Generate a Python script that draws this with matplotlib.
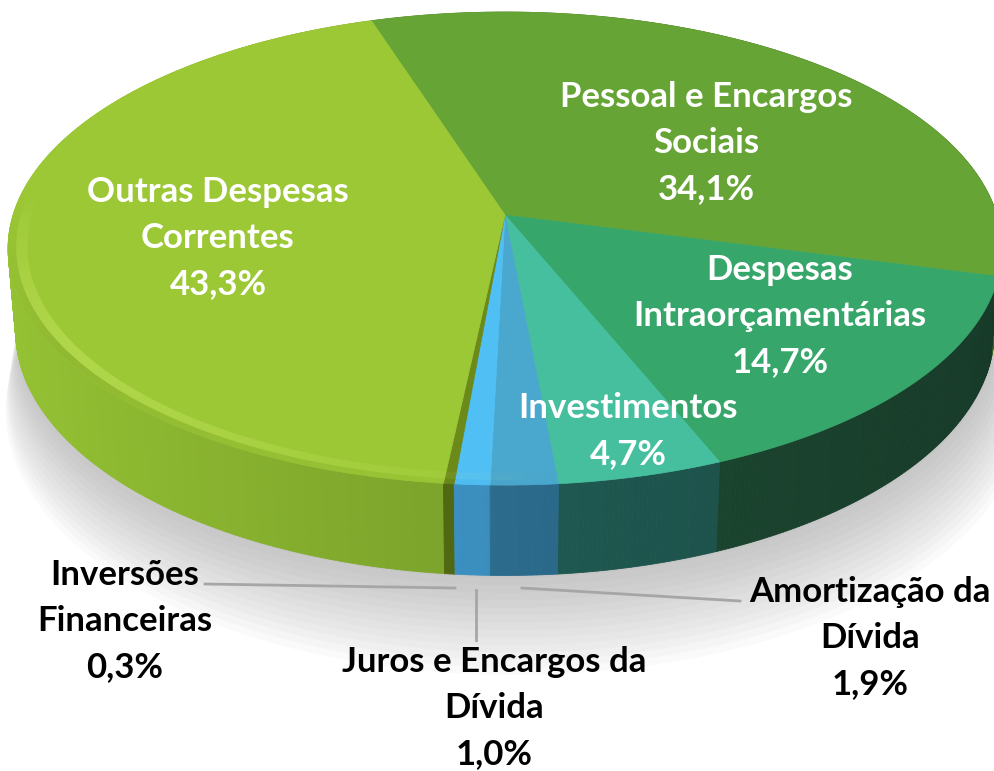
import numpy as np
import matplotlib.pyplot as plt
from matplotlib.patches import Polygon
from matplotlib.colors import to_rgb

# data (clockwise from the top boundary)
labels = ["Pessoal e Encargos\nSociais", "Despesas\nIntraorçamentárias", "Investimentos",
          "Amortização da\nDívida", "Juros e Encargos da\nDívida", "Inversões\nFinanceiras",
          "Outras Despesas\nCorrentes"]
values = [34.1, 14.7, 4.7, 1.9, 1.0, 0.3, 43.3]
pct_text = ["34,1%", "14,7%", "4,7%", "1,9%", "1,0%", "0,3%", "43,3%"]
top_colors = ["#66a535", "#37a66b", "#46bf9f", "#4aa7cd", "#50bff4", "#6b8a1a", "#9cc836"]
side_colors = ["#4f8129", "#1d4a33", "#1f5a52", "#2c6b8c", "#3a8dbd", "#4e6612", "#7aa02a"]

# label placement (center of first line, pixel), colour
lab_pos = [(706, 97), (780, 270), (628, 408), (870, 592), (494, 662), (125, 575), (218, 192)]
lab_col = ["white", "white", "white", "black", "black", "black", "white"]

# camera / projection
CX, CY = 505, 215
FX, FY = 3040, 2984
PHI = np.arcsin(0.48)
D = 6.18
H = 0.196
START = 107.95


def proj(theta, y=0.0, r=1.0):
    t = np.radians(theta)
    X = r * np.cos(t)
    Z = -r * np.sin(t)
    up = y * np.cos(PHI) - Z * np.sin(PHI)
    depth = D - (y * np.sin(PHI) + Z * np.cos(PHI))
    return CX + FX * X / depth, CY - FY * up / depth


def shade(c, k):
    c = np.array(to_rgb(c)) * k
    return np.clip(c, 0, 1)


fig = plt.figure(figsize=(9.95, 7.71), dpi=100)
ax = fig.add_axes([0, 0, 1, 1])
ax.set_xlim(0, 995)
ax.set_ylim(771, 0)
ax.axis("off")

fr = np.array(values) / np.sum(values)
edges = START - 360 * np.concatenate([[0], np.cumsum(fr)])

# soft shadow under the pie
tt = np.linspace(0, 360, 300)
for i in range(14):
    s = 1.0 + 0.004 * i
    bx, by = proj(tt, -H - 0.012 * i, s)
    ax.add_patch(Polygon(np.column_stack([bx + 2 + 0.6 * i, by + 2 + 0.8 * i]), closed=True,
                         fc="#7a7a7a", ec="none", alpha=0.035, zorder=1))

# sides, painter's order back to front
segs = []
for k in range(len(values)):
    a0, a1 = edges[k], edges[k + 1]
    n = max(int(abs(a0 - a1) / 0.5), 2)
    th = np.linspace(a0, a1, n + 1)
    for j in range(n):
        tm = 0.5 * (th[j] + th[j + 1])
        segs.append((np.sin(np.radians(tm)), th[j], th[j + 1], k, tm))
segs.sort(key=lambda s: -s[0])
for _, t0, t1, k, tm in segs:
    x0, y0 = proj(t0)
    x1, y1 = proj(t1)
    x2, y2 = proj(t1, -H)
    x3, y3 = proj(t0, -H)
    kk = 1.0 - 0.22 * np.cos(np.radians(tm))
    col = shade(side_colors[k], kk)
    ax.add_patch(Polygon([(x0, y0), (x1, y1), (x2, y2), (x3, y3)], closed=True,
                         fc=col, ec=col, lw=0.6, zorder=2))

# top face
for k in range(len(values)):
    th = np.linspace(edges[k], edges[k + 1], max(int(abs(edges[k] - edges[k + 1])), 2) + 1)
    px, py = proj(th)
    pts = np.column_stack([np.r_[CX, px], np.r_[CY, py]])
    ax.add_patch(Polygon(pts, closed=True, fc=top_colors[k], ec=top_colors[k], lw=0.5, zorder=3))

    # bevel highlight near the rim, strongest at the left
    for j in range(len(th) - 1):
        tm = 0.5 * (th[j] + th[j + 1])
        sn = np.sin(np.radians(tm))
        cs = np.cos(np.radians(tm))
        if sn > 0.1:
            continue
        a = 0.5 * min(1.0, (0.1 - sn) * 1.5) * max(0.0, -cs + 0.1)
        xa, ya = proj(th[j], 0, 0.962)
        xb, yb = proj(th[j + 1], 0, 0.962)
        xc, yc = proj(th[j + 1], 0, 0.984)
        xd, yd = proj(th[j], 0, 0.984)
        ax.add_patch(Polygon([(xa, ya), (xb, yb), (xc, yc), (xd, yd)], closed=True,
                             fc="#e8ff80", ec="none", alpha=a * 0.6, zorder=4))
        xe, ye = proj(th[j + 1], 0, 1.0)
        xf, yf = proj(th[j], 0, 1.0)
        ax.add_patch(Polygon([(xd, yd), (xc, yc), (xe, ye), (xf, yf)], closed=True,
                             fc="black", ec="none", alpha=a * 0.15, zorder=4))

# leader lines
lc = "#a6a6a6"
ax.plot([205, 455], [584, 588], color=lc, lw=2, zorder=5)
ax.plot([476, 476], [590, 640], color=lc, lw=2, zorder=5)
ax.plot([522, 740], [588, 601], color=lc, lw=2, zorder=5)

# labels
fam = ["Lato", "DejaVu Sans"]
for k in range(len(values)):
    lines = labels[k].split("\n") + [pct_text[k]]
    x0, y0 = lab_pos[k]
    for i, s in enumerate(lines):
        ax.text(x0, y0 + 46 * i, s, ha="center", va="center", fontsize=25,
                fontweight="bold", color=lab_col[k], family=fam, zorder=6)

fig.savefig("out.png", dpi=100)
